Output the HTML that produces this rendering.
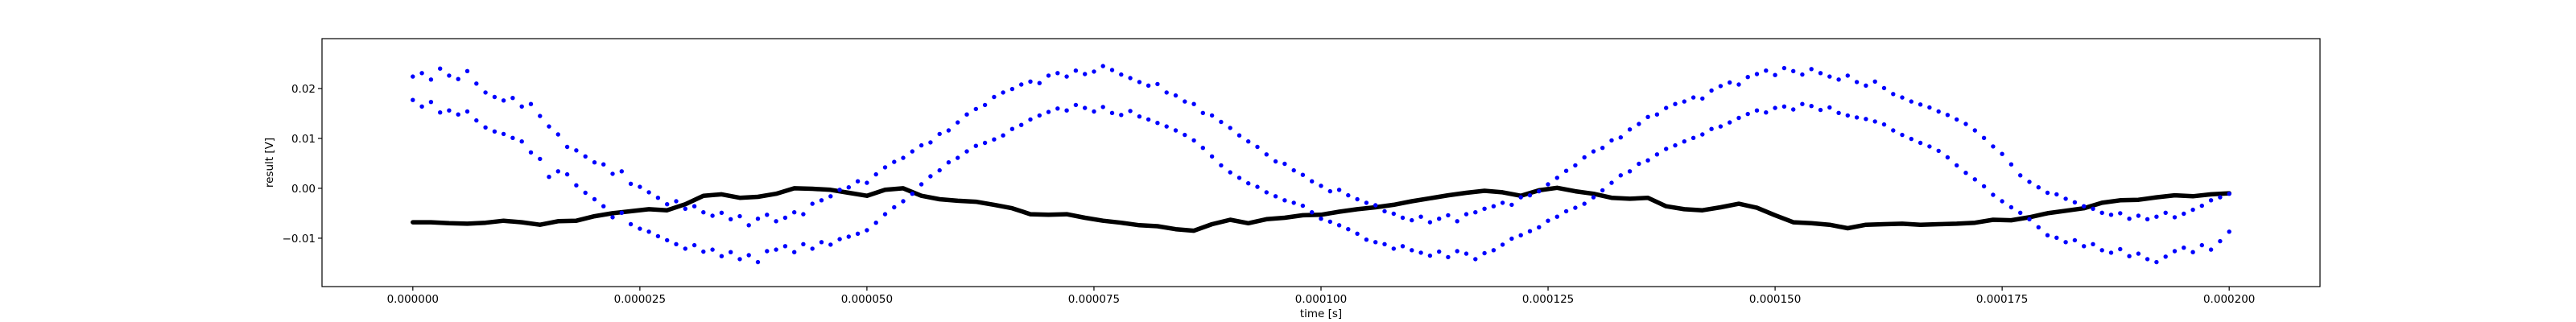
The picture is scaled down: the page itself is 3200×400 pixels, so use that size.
<!DOCTYPE html>
<html><head><meta charset="utf-8"><style>
html,body{margin:0;padding:0;background:#fff;}
svg{display:block;font-family:"DejaVu Sans","Liberation Sans",sans-serif;}
</style></head><body>
<svg id="chart" width="3200" height="400" viewBox="0 0 3200 400">
<rect width="3200" height="400" fill="#fff"/>
<g id="plot"></g>
<g id="axes"></g>
</svg>
<script>
const xTicks=[0,25,50,75,100,125,150,175,200];
const xTickLabels=["0.000000","0.000025","0.000050","0.000075","0.000100","0.000125","0.000150","0.000175","0.000200"];
const yTicks=[-10,0,10,20];
const yTickLabels=["\u22120.01","0.00","0.01","0.02"];
const upperBand=[22.4,23.1,21.8,24.0,22.6,21.9,23.5,21.0,19.2,18.3,
17.6,18.1,16.4,16.9,14.5,12.4,10.8,8.3,7.6,6.4,
5.2,4.8,2.9,3.4,0.9,0.3,-0.8,-1.9,-3.2,-2.6,
-4.1,-3.6,-4.8,-5.5,-4.9,-6.2,-5.6,-7.4,-6.1,-5.3,
-6.6,-5.9,-4.8,-5.2,-3.1,-2.4,-1.6,-0.3,0.2,1.4,
1.1,2.8,4.2,5.3,6.1,7.4,8.6,9.2,10.9,11.6,
13.2,14.8,15.9,16.7,18.3,19.2,19.9,20.8,21.4,21.1,
22.6,23.1,22.4,23.6,22.9,23.4,24.5,23.7,22.8,22.1,
21.3,20.6,20.9,19.2,18.6,17.4,16.9,15.1,14.6,13.3,
12.1,10.6,9.4,8.3,6.8,5.4,4.9,3.6,2.7,1.4,
0.5,-0.6,-0.3,-1.4,-2.2,-2.9,-3.4,-4.6,-5.1,-5.9,
-6.4,-5.7,-6.8,-6.1,-5.4,-6.6,-5.2,-4.8,-4.1,-3.6,
-2.9,-3.3,-1.8,-1.4,-0.6,0.8,2.1,3.5,4.6,6.2,
7.4,8.1,9.6,10.2,11.8,12.9,14.3,14.8,16.1,16.9,
17.4,18.2,18.0,19.6,20.5,21.2,20.8,22.3,22.9,23.6,
22.7,24.1,23.5,22.8,23.9,23.1,22.4,21.8,22.6,21.3,
20.6,21.4,20.1,18.9,18.2,17.4,16.8,16.2,15.4,14.7,
13.8,12.9,11.6,10.1,8.4,6.9,4.8,2.6,1.3,0.2,
-0.9,-1.2,-2.1,-2.8,-3.6,-4.1,-4.9,-5.3,-5.0,-6.1,
-5.5,-6.2,-5.7,-4.9,-5.8,-5.1,-4.3,-3.5,-2.4,-1.8,
-1.1];
const lowerBand=[17.7,16.4,17.3,15.2,15.6,14.8,15.4,13.6,12.2,11.4,
10.9,10.1,9.4,7.2,5.9,2.3,3.4,2.8,0.6,-0.9,
-2.2,-3.6,-5.8,-4.9,-7.2,-8.1,-8.7,-9.6,-10.4,-11.2,
-12.1,-11.4,-12.7,-12.3,-13.6,-12.8,-14.2,-13.4,-14.8,-12.6,
-12.3,-11.6,-12.8,-11.2,-12.1,-10.8,-11.3,-10.2,-9.7,-9.1,
-8.4,-6.9,-5.2,-3.8,-2.6,-1.1,0.8,2.4,3.6,5.2,
6.1,7.4,8.5,9.1,9.8,10.6,11.9,12.7,13.8,14.6,
15.3,16.0,15.6,16.7,16.1,15.4,16.3,15.1,14.7,15.5,
14.4,13.8,13.1,12.4,11.6,10.7,9.6,8.1,6.4,4.6,
3.2,2.1,1.0,0.3,-0.8,-1.6,-2.4,-2.9,-3.5,-4.8,
-6.1,-6.7,-7.4,-8.2,-9.1,-10.3,-10.8,-11.2,-12.1,-11.6,
-12.4,-12.9,-13.5,-12.7,-13.8,-12.6,-13.1,-14.2,-13.0,-12.4,
-11.3,-10.1,-9.4,-8.6,-7.8,-6.5,-5.7,-4.6,-3.9,-3.1,
-1.8,-0.4,1.1,2.6,3.4,4.9,5.6,6.8,7.9,8.6,
9.4,10.1,10.8,11.9,12.4,13.2,14.1,14.9,15.6,15.2,
16.1,16.4,15.8,16.9,16.5,15.7,16.2,15.1,14.6,14.2,
13.9,13.4,12.8,11.6,10.7,9.9,9.1,8.4,7.5,6.2,
4.6,3.1,1.8,0.4,-1.3,-2.6,-3.8,-4.9,-6.2,-7.8,
-9.4,-9.9,-10.8,-10.4,-11.6,-11.2,-12.4,-12.9,-12.2,-13.6,
-13.1,-14.2,-14.8,-13.7,-12.6,-11.9,-12.8,-11.4,-12.3,-10.6,
-8.7];
const blackSeries=[-6.8,-6.8,-7.0,-7.1,-6.9,-6.5,-6.8,-7.3,-6.6,-6.5,
-5.6,-5.0,-4.6,-4.2,-4.4,-3.2,-1.5,-1.2,-1.9,-1.7,
-1.1,0.0,-0.1,-0.3,-0.9,-1.5,-0.3,0.0,-1.5,-2.2,
-2.5,-2.7,-3.3,-4.0,-5.2,-5.3,-5.2,-5.9,-6.5,-6.9,
-7.4,-7.6,-8.2,-8.5,-7.2,-6.3,-7.0,-6.2,-5.9,-5.4,
-5.3,-4.7,-4.2,-3.8,-3.3,-2.6,-2.0,-1.4,-0.9,-0.5,
-0.8,-1.5,-0.4,0.1,-0.6,-1.1,-1.9,-2.1,-1.9,-3.6,
-4.2,-4.4,-3.8,-3.1,-3.9,-5.4,-6.8,-7.0,-7.3,-8.0,
-7.3,-7.2,-7.1,-7.3,-7.2,-7.1,-6.9,-6.3,-6.4,-5.8,
-5.0,-4.5,-4.0,-2.9,-2.4,-2.3,-1.8,-1.4,-1.6,-1.2,
-1.0];
const blueStepUs=1, blackStepUs=2;

const NS="http://www.w3.org/2000/svg";
const L=400,R=2882,T=48,B=356;
const xMin=-10,xMax=210,yMin=-19.7,yMax=30.0;
function X(t){return L+(t-xMin)/(xMax-xMin)*(R-L);}
function Y(v){return B-(v-yMin)/(yMax-yMin)*(B-T);}
function mk(tag,attrs,parent){const e=document.createElementNS(NS,tag);for(const k in attrs)e.setAttribute(k,attrs[k]);parent.appendChild(e);return e;}
const plot=document.getElementById('plot'),axes=document.getElementById('axes');

// black series
let pts=blackSeries.map((v,i)=>X(i*blackStepUs).toFixed(1)+','+Y(v).toFixed(1)).join(' ');
const bl=mk('polyline',{points:pts,fill:'none',stroke:'#000','stroke-width':5.5,'stroke-linejoin':'round','stroke-linecap':'round'},plot);



function drawBand(arr,name){
  const g=mk('g',{},plot);
  
  
  arr.forEach((v,i)=>{
    const c=mk('circle',{cx:X(i*blueStepUs).toFixed(1),cy:Y(v).toFixed(1),r:2.7,fill:'#0000ff'},g);
    
    
  });
}
drawBand(upperBand,'blue-upper-band');
drawBand(lowerBand,'blue-lower-band');

// frame
const fr=mk('rect',{x:L,y:T,width:R-L,height:B-T,fill:'none',stroke:'#000','stroke-width':1.2},axes);


xTicks.forEach((t,i)=>{
  const x=X(t);
  const tk=mk('line',{x1:x,y1:B,x2:x,y2:B+5,stroke:'#000','stroke-width':1.2},axes);
  
  
  const tx=mk('text',{x:x,y:B+20,'text-anchor':'middle','font-size':13.5,fill:'#000'},axes);
  tx.textContent=xTickLabels[i];
  
  
});
yTicks.forEach((v,i)=>{
  const y=Y(v);
  const tk=mk('line',{x1:L-5,y1:y,x2:L,y2:y,stroke:'#000','stroke-width':1.2},axes);
  
  
  const tx=mk('text',{x:L-8,y:y+5,'text-anchor':'end','font-size':13.5,fill:'#000'},axes);
  tx.textContent=yTickLabels[i];
  
  
});
const xt=mk('text',{x:(L+R)/2,y:394,'text-anchor':'middle','font-size':13.5,fill:'#000'},axes);
xt.textContent='time [s]';


const yt=mk('text',{x:0,y:0,'text-anchor':'middle','font-size':13.5,fill:'#000',transform:'translate(339,'+((T+B)/2)+') rotate(-90)'},axes);
yt.textContent='result [V]';


</script>
</body></html>
